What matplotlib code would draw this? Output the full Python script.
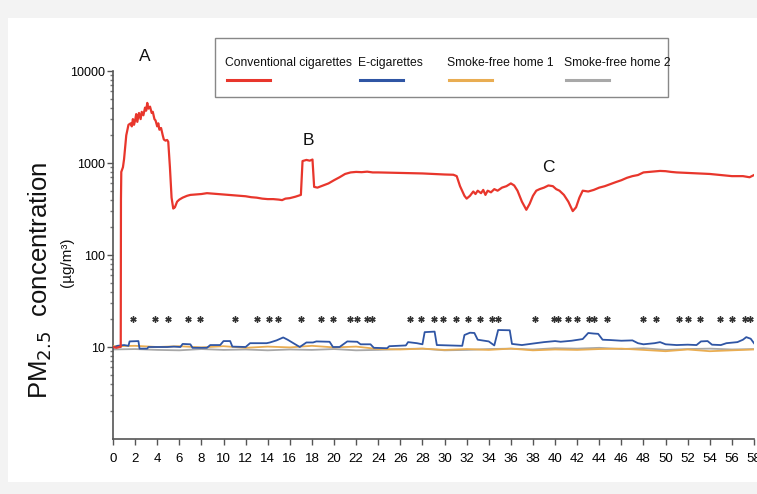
import matplotlib
matplotlib.use("Agg")
import matplotlib.pyplot as plt
from matplotlib.patches import Rectangle
from matplotlib.lines import Line2D
from matplotlib.ticker import FixedLocator, NullFormatter, FuncFormatter

# ---- data (minutes, µg/m³) ----
red_t = [0.0, 0.3, 0.6, 0.7, 0.72, 0.75, 0.9, 1.0, 1.2, 1.4, 1.6, 1.7, 1.8, 1.9, 2.0, 2.1, 2.2,
         2.35, 2.5, 2.6, 2.75, 2.9, 3.0, 3.1, 3.2, 3.35, 3.5, 3.6, 3.75, 3.85, 4.0, 4.1, 4.2,
         4.35, 4.5, 4.6, 4.75, 4.9, 5.0, 5.15, 5.3, 5.45, 5.6, 5.8, 6.0, 6.3, 6.7, 7.0, 7.5,
         8.0, 8.5, 9.0, 9.5, 10.0, 10.5, 11.0, 11.5, 12.0, 12.5, 13.0, 13.5, 14.0, 14.5, 15.0,
         15.3, 15.6, 16.0, 16.5, 17.0, 17.15, 17.5, 17.8, 18.05, 18.2, 18.5, 19.0, 19.5, 20.0,
         20.5, 21.0, 21.5, 22.0, 22.5, 23.0, 23.5, 24.0, 25.0, 26.0, 27.0, 28.0, 29.0, 30.0,
         30.8, 31.1, 31.4, 31.8, 32.0, 32.3, 32.6, 32.8, 33.0, 33.3, 33.5, 33.7, 33.9, 34.2,
         34.5, 34.8, 35.2, 35.6, 36.0, 36.3, 36.6, 37.0, 37.4, 37.7, 38.0, 38.3, 38.6, 39.0,
         39.4, 39.8, 40.1, 40.4, 40.8, 41.2, 41.6, 41.9, 42.2, 42.5, 43.0, 43.5, 44.0, 44.5,
         45.0, 45.5, 46.0, 46.5, 47.0, 47.5, 48.0, 48.5, 49.0, 49.5, 50.0, 50.5, 51.0, 52.0,
         53.0, 54.0, 55.0, 56.0, 57.0, 57.6, 58.0]
red_v = [10, 9.8, 10, 10, 400, 800, 900, 1100, 2000, 2600, 2700, 2500, 3000, 2600, 2900, 3400, 2800,
         3500, 3000, 3600, 3300, 4000, 3700, 4500, 3900, 4100, 3500, 3600, 3000, 2900, 2500, 2700, 2300,
         2400, 2000, 1800, 1750, 1780, 1700, 900, 420, 320, 330, 380, 400, 420, 440, 450, 455,
         460, 470, 465, 460, 455, 450, 445, 440, 435, 425, 420, 410, 405, 405, 400,
         395, 410, 415, 430, 450, 1050, 1080, 1060, 1090, 550, 540, 570, 600, 650,
         700, 760, 790, 800, 795, 805, 790, 790, 785, 780, 775, 770, 760, 750,
         745, 720, 560, 440, 410, 440, 490, 460, 500, 470, 510, 450, 500, 480,
         520, 500, 540, 560, 600, 570, 500, 380, 310, 360, 440, 500, 520, 540,
         570, 560, 520, 500, 450, 380, 300, 330, 420, 500, 490, 510, 540, 560,
         590, 620, 650, 690, 720, 740, 790, 800, 810, 820, 815, 800, 790, 780,
         770, 760, 740, 720, 720, 700, 740]

blue_t = [0, 0.4, 1.0, 1.4, 1.5, 2.3, 2.4, 3.1, 3.2, 4.9, 5.5, 6.1, 6.3, 7.0, 7.2, 8.5, 8.8, 9.7,
          10.0, 10.6, 10.8, 12.0, 12.4, 13.9, 14.2, 14.8, 15.4, 15.8, 16.9, 17.5, 18.1, 18.4, 19.6,
          19.9, 20.5, 21.2, 22.1, 22.4, 23.3, 23.6, 24.8, 25.0, 26.5, 26.7, 27.5, 28.0, 28.2, 29.1,
          29.3, 31.6, 31.8, 32.3, 32.7, 33.0, 34.0, 34.5, 34.85, 35.9, 36.1, 37.0, 38.0, 39.0, 40.0,
          40.5, 41.5, 42.5, 43.0, 43.5, 43.9, 44.3, 45.0, 46.0, 47.0, 47.5, 48.0, 49.0, 49.5, 50.0,
          51.0, 52.0, 52.8, 53.2, 53.8, 54.2, 55.0, 55.5, 56.5, 57.0, 57.3, 57.7, 58.0]
blue_v = [9.8, 10.3, 10.5, 10.3, 11.5, 11.6, 9.6, 9.6, 10.0, 10.0, 10.1, 10.0, 10.8, 10.7, 9.8, 9.8, 10.5, 10.5,
          11.6, 11.6, 10.1, 10.0, 11.0, 11.0, 11.2, 11.8, 12.7, 12.0, 10.0, 11.2, 11.2, 11.5, 11.4,
          10.0, 10.0, 11.5, 11.4, 10.7, 10.7, 9.8, 9.7, 10.2, 10.4, 11.3, 11.0, 10.7, 14.5, 14.7,
          10.5, 10.3, 13.5, 14.3, 14.2, 12.0, 11.5, 10.4, 15.3, 15.2, 10.8, 10.5, 10.9, 11.3, 11.6,
          11.4, 11.7, 12.2, 14.2, 14.0, 13.9, 12.0, 11.9, 11.7, 11.8, 11.0, 10.7, 11.0, 11.3, 10.7,
          10.5, 10.6, 10.5, 11.5, 11.6, 10.6, 10.5, 11.0, 11.3, 12.0, 12.8, 12.3, 11.0]

home_t = list(range(0, 59, 2))
home1_v = [10.2, 10.3, 10.0, 10.2, 9.9, 10.2, 9.8, 10.1, 9.9, 10.3, 9.9, 10.1, 9.5, 9.4, 9.6,
           9.3, 9.5, 9.3, 9.6, 9.2, 9.4, 9.3, 9.5, 9.6, 9.3, 9.0, 9.4, 9.0, 9.2, 9.4]
home2_v = [9.4, 9.5, 9.3, 9.2, 9.5, 9.3, 9.4, 9.2, 9.4, 9.3, 9.5, 9.2, 9.3, 9.5, 9.6,
           9.2, 9.3, 9.5, 9.6, 9.4, 9.7, 9.6, 9.8, 9.5, 9.7, 9.3, 9.5, 9.6, 9.4, 9.5]

# minutes flagged as significant differences
star_t = [1.8, 3.8, 5.0, 6.8, 7.9, 11.0, 13.0, 14.1, 14.9, 17.0, 18.8, 19.9, 21.4, 22.1, 23.0, 23.4,
          26.9, 27.9, 29.0, 29.9, 31.0, 32.1, 33.2, 34.3, 34.8, 38.2, 39.9, 40.3, 41.2, 42.0, 43.1,
          43.5, 44.7, 48.0, 49.1, 51.2, 52.0, 53.1, 54.9, 56.0, 57.2, 57.6]
star_level = 20

peak_labels = ["A", "B", "C"]
peak_t = [2.9, 17.7, 39.4]
peak_v = [14500, 1750, 900]

series_names = ["Conventional cigarettes", "E-cigarettes", "Smoke-free home 1", "Smoke-free home 2"]
series_colors = ["#e8362c", "#2f55a4", "#e9ad52", "#a8a8a8"]

x_ticks = list(range(0, 59, 2))
y_ticks = [10, 100, 1000, 10000]

sans = ["Liberation Sans", "DejaVu Sans"]

fig = plt.figure(figsize=(7.57, 4.94), dpi=100, facecolor="#f3f3f3")
W, H = 757, 494

# white panel behind everything
fig.patches.append(Rectangle((8 / W, 1 - 482 / H), (757 - 8) / W, (482 - 18) / H,
                             transform=fig.transFigure, facecolor="white",
                             edgecolor="none", zorder=-10))

ax = fig.add_axes([113 / W, 1 - 439 / H, (754 - 113) / W, (439 - 71) / H])
ax.set_zorder(2)
ax.set_facecolor("none")
ax.set_yscale("log")
ax.set_xlim(0, 58)
ax.set_ylim(1, 10000)

ax.plot(home_t, home2_v, color=series_colors[3], lw=1.3, zorder=2)
ax.plot(home_t, home1_v, color=series_colors[2], lw=1.3, zorder=3)
ax.plot(blue_t, blue_v, color=series_colors[1], lw=1.3, zorder=4)
ax.plot(red_t, red_v, color=series_colors[0], lw=1.6, zorder=5)

ax.plot(star_t, [star_level] * len(star_t), linestyle="none", marker=(6, 2, 0),
        markersize=4.5, color="#333333", markeredgewidth=1.0, zorder=6)

for lab, t, v in zip(peak_labels, peak_t, peak_v):
    ax.text(t, v, lab, ha="center", va="center", fontsize=12.5, family=sans,
            color="#111111", clip_on=False)

for side in ("top", "right"):
    ax.spines[side].set_visible(False)
for side in ("left", "bottom"):
    ax.spines[side].set_color("#555555")
    ax.spines[side].set_linewidth(1.2)

ax.xaxis.set_major_locator(FixedLocator(x_ticks))
ax.set_xticklabels([str(v) for v in x_ticks], family=sans, fontsize=9.5)
ax.tick_params(axis="x", length=4, width=1, color="#555555", pad=6)

ax.yaxis.set_major_locator(FixedLocator(y_ticks))
ax.yaxis.set_major_formatter(FuncFormatter(lambda v, p: f"{int(v)}"))
minor = [m * 10 ** e for e in range(0, 4) for m in range(2, 10)]
ax.yaxis.set_minor_locator(FixedLocator(minor))
ax.yaxis.set_minor_formatter(NullFormatter())
ax.tick_params(axis="y", which="major", length=4, width=1, color="#555555", pad=2,
               labelsize=9)
ax.tick_params(axis="y", which="minor", length=2.5, width=1, color="#777777")
for t in ax.get_yticklabels():
    t.set_family(sans)

# y-axis title
fig.text(40 / W, 1 - 280 / H, r"PM$_{2.5}$  concentration", rotation=90, ha="center",
         va="center", fontsize=18.5, family=sans, color="#111111")
fig.text(67 / W, 1 - 262 / H, "(µg/m³)", rotation=90, ha="center", va="center",
         fontsize=11, family=sans, color="#111111")

# legend box
fig.patches.append(Rectangle((215 / W, 1 - 97 / H), (668 - 215) / W, (97 - 38) / H,
                             transform=fig.transFigure, facecolor="white",
                             edgecolor="#888888", linewidth=1.0, zorder=5))
leg_x = [225, 358, 447, 564]
for name, col, x in zip(series_names, series_colors, leg_x):
    fig.text(x / W, 1 - 63 / H, name, ha="left", va="center", fontsize=8.7,
             family=sans, color="#111111", zorder=6)
    fig.lines.append(Line2D([(x + 2) / W, (x + 45) / W], [1 - 80 / H, 1 - 80 / H],
                            transform=fig.transFigure, color=col, lw=2.2, zorder=6))

fig.savefig("out.png", dpi=100, facecolor=fig.get_facecolor())
